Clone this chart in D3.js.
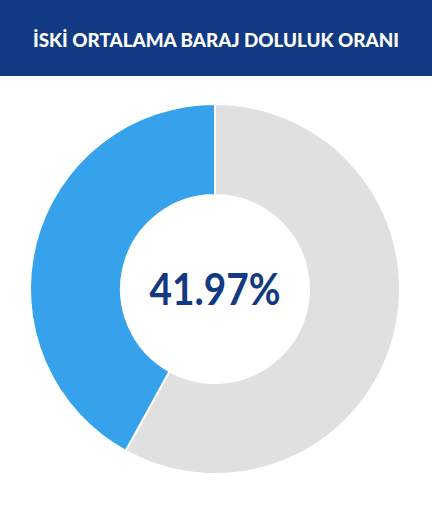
<!DOCTYPE html>
<html>
<head>
<meta charset="utf-8">
<script src="https://cdn.jsdelivr.net/npm/d3@7"></script>
<style>
  html, body { margin: 0; padding: 0; background: #fff; }
  svg { display: block; }
</style>
</head>
<body>
<div id="chart"></div>
<script>
const title = "İSKİ ORTALAMA BARAJ DOLULUK ORANI";
const categories = ["Boş", "Dolu"];
const values = [58.03, 41.97];
const colors = ["#e0e0e0", "#36a2eb"];
const centerLabel = "41.97%";

const width = 432, height = 505;
const headerH = 76;

const svg = d3.select("#chart").append("svg")
  .attr("width", width)
  .attr("height", height);

svg.append("rect")
  .attr("width", width)
  .attr("height", headerH)
  .attr("fill", "#123a82");

svg.append("text")
  .attr("x", width / 2)
  .attr("y", 47)
  .attr("text-anchor", "middle")
  .attr("fill", "#fff")
  .attr("textLength", 366)
  .attr("lengthAdjust", "spacingAndGlyphs")
  .style("font-family", "Lato, sans-serif")
  .style("font-weight", 900)
  .style("font-size", "18px")
  .text(title);

const cx = 215, cy = 289;
const outerR = 185, innerR = 94;

const pie = d3.pie().sort(null).value(d => d.value);
const arc = d3.arc().innerRadius(innerR).outerRadius(outerR);

const data = categories.map((c, i) => ({ name: c, value: values[i], color: colors[i] }));

const g = svg.append("g").attr("transform", `translate(${cx},${cy})`);

g.selectAll("path")
  .data(pie(data))
  .join("path")
  .attr("d", arc)
  .attr("fill", d => d.data.color)
  .attr("stroke", "#fff")
  .attr("stroke-width", 2);

g.append("text")
  .attr("x", 0)
  .attr("y", 16)
  .attr("text-anchor", "middle")
  .attr("fill", "#123a82")
  .attr("textLength", 131)
  .attr("lengthAdjust", "spacingAndGlyphs")
  .style("font-family", "Lato, sans-serif")
  .style("font-weight", 700)
  .style("font-size", "44px")
  .text(centerLabel);
</script>
</body>
</html>
